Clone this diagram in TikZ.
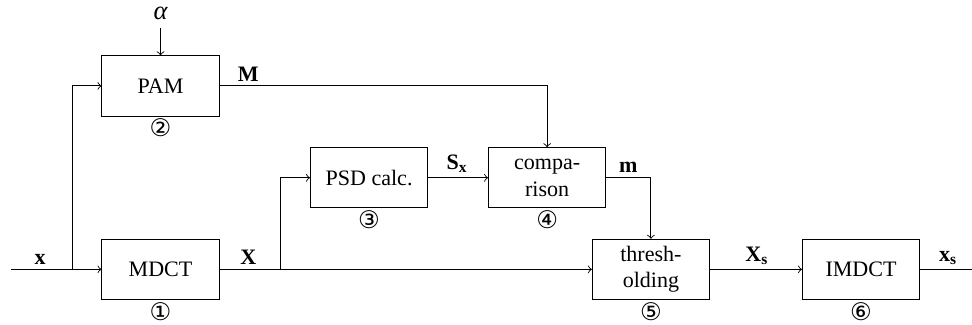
\documentclass[tikz,border=0pt]{standalone}
\usepackage{fontspec}
\setmainfont{Liberation Serif}
\newfontfamily\circfont{DejaVu Sans}
\usepackage{tikz}
\usetikzlibrary{positioning}

\begin{document}
\begin{tikzpicture}[
    blockbox/.style={draw,minimum width=1.87cm,minimum height=0.96cm,
                     align=center,inner sep=1pt},
    numlabel/.style={font=\circfont\fontsize{11}{12}\selectfont,inner sep=0pt},
    sig/.style={inner sep=2pt,font=\bfseries}]

    \useasboundingbox (0,0) rectangle (15.5,5.18);

    % ── BLOCOS ────────────────────────────────────────────
    \node[blockbox] (pam)    at (2.56,3.81)  {PAM};
    \node[blockbox] (mdct)   at (2.56,0.885) {MDCT};
    \node[blockbox] (psd)    at (5.885,2.345){PSD calc.};
    \node[blockbox] (comp)   at (8.725,2.345){compa-\\rison};
    \node[blockbox] (thresh) at (10.38,0.885){thresh-\\olding};
    \node[blockbox] (imdct)  at (13.73,0.885){IMDCT};

    % ── NUMEROS ───────────────────────────────────────────
    \node[numlabel,below=1pt of mdct]   (n1) {①};
    \node[numlabel,below=1pt of pam]    (n2) {②};
    \node[numlabel,below=1pt of psd]    (n3) {③};
    \node[numlabel,below=1pt of comp]   (n4) {④};
    \node[numlabel,below=1pt of thresh] (n5) {⑤};
    \node[numlabel,below=1pt of imdct]  (n6) {⑥};

    % ── ENTRADAS / SAIDAS ─────────────────────────────────
    \node[font=\large\itshape] (alpha) at (2.56,4.96) {α};
    \coordinate (xin)    at (0.175,0.885);
    \coordinate (split1) at (1.15,0.885);
    \coordinate (split2) at (4.465,0.885);
    \coordinate (xout)   at (15.5,0.885);

    % ── LIGACOES ──────────────────────────────────────────
    \draw[->] (alpha) -- (pam.north);
    \draw[->] (xin) -- (mdct.west);
    \draw[->] (split1) |- (pam.west);
    \draw[->] (mdct.east) -- (thresh.west);
    \draw[->] (split2) |- (psd.west);
    \draw[->] (pam.east) -| (comp.north);
    \draw[->] (psd.east) -- (comp.west);
    \draw[->] (comp.east) -| (thresh.north);
    \draw[->] (thresh.east) -- (imdct.west);
    \draw     (imdct.east) -- (xout);

    % ── ROTULOS ───────────────────────────────────────────
    \node[sig,above] (lx)  at (0.64,0.885)  {x};
    \node[sig,above] (lM)  at (3.96,3.81)   {M};
    \node[sig,above] (lX)  at (3.96,0.885)  {X};
    \node[sig,above] (lSx) at (7.29,2.345)  {S\textsubscript{x}};
    \node[sig,above] (lm)  at (10.02,2.345) {m};
    \node[sig,above] (lXs) at (12.07,0.885) {X\textsubscript{s}};
    \node[sig,above] (lxs) at (15.12,0.885) {x\textsubscript{s}};

\end{tikzpicture}
\end{document}
